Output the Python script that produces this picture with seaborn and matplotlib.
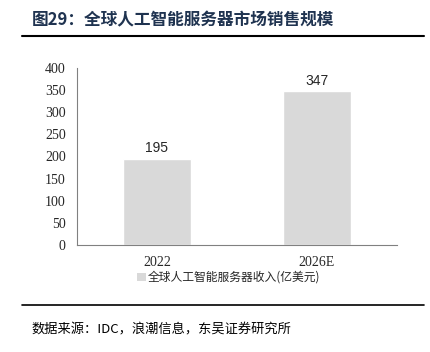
import seaborn as sns
import matplotlib.pyplot as plt
from matplotlib.patches import Patch

years = ["2022", "2026E"]
revenue = [195, 347]
series_name = "全球人工智能服务器收入(亿美元)"
y_ticks = [0, 50, 100, 150, 200, 250, 300, 350, 400]

sns.set_style("white")
cjk = ["Noto Sans CJK SC", "DejaVu Sans"]
plt.rcParams["font.family"] = cjk

fig = plt.figure(figsize=(4.3, 3.52), dpi=100)
ax = fig.add_axes([0.179, 0.304, 0.744, 0.503])

sns.barplot(x=years, y=revenue, color="#D9D9D9", width=0.42, saturation=1, ax=ax)

ax.set_ylim(0, 400)
ax.set_xlim(-0.5, 1.5)
ax.set_yticks(y_ticks)
ax.set_yticklabels([str(v) for v in y_ticks], family="Liberation Serif", fontsize=10)
ax.set_xticks([0, 1])
ax.set_xticklabels(years, family="Liberation Serif", fontsize=10)
ax.set_xticks([0.5, 1.5], minor=True)
ax.tick_params(axis="x", which="major", length=0, pad=8)
ax.tick_params(axis="x", which="minor", direction="in", length=3, color="#808080")
ax.tick_params(axis="y", direction="in", length=3, color="#808080", pad=8)

for s in ["top", "right"]:
    ax.spines[s].set_visible(False)
for s in ["left", "bottom"]:
    ax.spines[s].set_color("#808080")
    ax.spines[s].set_linewidth(0.8)

for i, v in enumerate(revenue):
    ax.text(i, v + 8, str(v), ha="center", va="bottom",
            family="Liberation Sans", fontsize=10)

handle = Patch(facecolor="#D9D9D9", edgecolor="none")
fig.legend([handle], [series_name], loc="center left",
           bbox_to_anchor=(0.295, 0.212), frameon=False,
           handlelength=0.7, handleheight=0.7, handletextpad=0.2,
           prop={"family": cjk, "size": 8.5})

# title and rules
fig.text(0.074, 0.943, "图29：全球人工智能服务器市场销售规模", fontsize=12,
         fontweight="bold", color="#1F3350", va="center", family=cjk)
fig.add_artist(plt.Line2D([0.051, 0.986], [0.897, 0.897], color="black", lw=1.5))
fig.add_artist(plt.Line2D([0.051, 0.986], [0.134, 0.134], color="black", lw=1.2))
fig.text(0.074, 0.062, "数据来源：IDC，浪潮信息，东吴证券研究所", fontsize=9.5,
         color="black", va="center", family=cjk)

fig.savefig("out.png", dpi=100)
